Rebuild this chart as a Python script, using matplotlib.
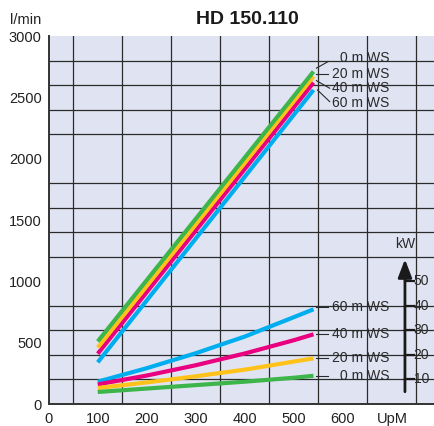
import matplotlib
matplotlib.use("Agg")
import matplotlib.pyplot as plt
import numpy as np

plt.rcParams['font.family'] = ['Liberation Sans', 'DejaVu Sans']

# ---- data ----
title = "HD 150.110"
series_labels = ["0 m WS", "20 m WS", "40 m WS", "60 m WS"]
colors = ["#3db54a", "#ffc21a", "#e8007f", "#00aeef"]

flow_rpm = [100, 540]
flow_0 = [510, 2710]
flow_20 = [460, 2670]
flow_40 = [410, 2620]
flow_60 = [340, 2560]

power_rpm = [100, 200, 300, 400, 500, 540]
power_0 = [4.9, 6.3, 7.7, 9.1, 10.7, 11.5]
power_20 = [6.5, 8.8, 11.3, 14.0, 17.3, 18.6]
power_40 = [8.0, 11.6, 15.8, 20.6, 26.0, 28.4]
power_60 = [9.1, 14.6, 20.7, 27.5, 35.4, 38.6]

x_ticks = [0, 100, 200, 300, 400, 500, 600, 700]
x_ticklabels = ["0", "100", "200", "300", "400", "500", "600", "UpM"]
y_ticks = [0, 500, 1000, 1500, 2000, 2500, 3000]
kw_ticks = [10, 20, 30, 40, 50]

# ---- figure ----
W, H = 435, 426
fig = plt.figure(figsize=(W / 100, H / 100), dpi=100)
left_px, right_px, top_px, bot_px = 48.7, 441.0, 36.0, 404.0
ax = fig.add_axes([left_px / W, (H - bot_px) / H, (right_px - left_px) / W, (bot_px - top_px) / H])
ax.set_facecolor("#e0e4f2")
ax.set_xlim(0, 800)
ax.set_ylim(0, 3000)

grid_c = "#2b2b2b"
ax.set_xticks(np.arange(0, 801, 50), minor=True)
ax.set_yticks(np.arange(0, 3001, 200), minor=True)
ax.set_xticks(x_ticks)
ax.set_xticklabels(x_ticklabels)
ax.set_yticks(y_ticks)
ax.grid(False)
ax.grid(True, which="minor", color=grid_c, linewidth=0.9)
ax.set_axisbelow("line")
ax.tick_params(which="both", length=0)
ax.tick_params(axis="x", pad=5.5, labelsize=10.5, labelcolor="#222222")
ax.tick_params(axis="y", pad=5, labelsize=10.5, labelcolor="#222222")
for s in ["top", "right"]:
    ax.spines[s].set_visible(False)
for s in ["left", "bottom"]:
    ax.spines[s].set_color("#333333")
    ax.spines[s].set_linewidth(1.4)

# flow curves
flows = [flow_0, flow_20, flow_40, flow_60]
for f, c in zip(flows[::-1], colors[::-1]):
    ax.plot(flow_rpm, f, color=c, linewidth=3.0, solid_capstyle="butt", zorder=3)

# power curves on a kW scale (10 kW = 200 l/min)
ax2 = ax.twinx()
ax2.set_ylim(0, 150)
ax2.set_xlim(0, 800)
ax2.axis("off")
powers = [power_0, power_20, power_40, power_60]
for p, c in zip(powers[::-1], colors[::-1]):
    ax2.plot(power_rpm, p, color=c, linewidth=3.0, solid_capstyle="butt",
             solid_joinstyle="round", zorder=3)

txt_c = "#2a2a2a"
# upper labels with leader lines
up_text_y = [2818, 2690, 2574, 2451]
up_lead = [((546, 2738), (570, 2792)),
           ((546, 2688), (570, 2688)),
           ((546, 2636), (573, 2574)),
           ((548, 2560), (573, 2465))]
for lab, ty, (p0, p1) in zip(series_labels, up_text_y, up_lead):
    ax.text(694, ty, lab, ha="right", va="center", fontsize=10, color=txt_c, zorder=1)
    ax.plot([p0[0], p1[0]], [p0[1], p1[1]], color=txt_c, linewidth=0.8, zorder=3)

# lower labels (kW scale)
low_text_y = [11.3, 18.9, 28.4, 39.4]
for lab, ty in zip(series_labels, low_text_y):
    ax2.text(694, ty, lab, ha="right", va="center", fontsize=10, color=txt_c, zorder=1)
    ax2.plot([546, 570], [ty, ty], color=txt_c, linewidth=0.8, zorder=3)

# kW axis arrow
ax2.annotate("", xy=(726.5, 59), xytext=(726.5, 5),
             arrowprops=dict(arrowstyle="-|>,head_length=1.1,head_width=0.42",
                             color="#1a1a1a", lw=2.0, shrinkA=0, shrinkB=0), zorder=4)
ax2.text(726.5, 65.2, "kW", ha="center", va="center", fontsize=10, color=txt_c)
for k in kw_ticks:
    ax2.plot([726.5, 745], [k, k], color="#1a1a1a", linewidth=1.6, zorder=4)
    ax2.text(744, k, str(k), ha="left", va="center", fontsize=10, color=txt_c)

# title and unit
fig.text(247 / W, 1 - 20 / H, title, ha="center", va="center", fontsize=14,
         fontweight="bold", color="#1a1a1a")
fig.text(41.7 / W, 1 - 20 / H, "l/min", ha="right", va="center", fontsize=10.5, color="#222222")

fig.savefig("out.png", dpi=100)
